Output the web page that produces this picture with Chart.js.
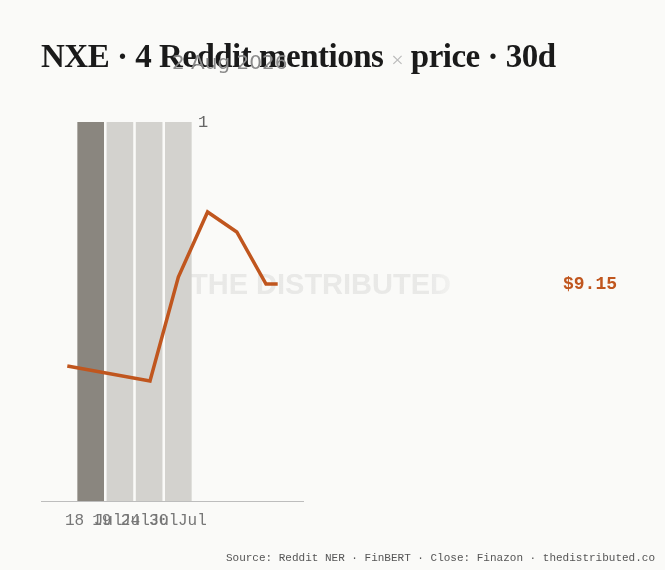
<!DOCTYPE html>
<html><head><meta charset="utf-8">
<script src="https://cdn.jsdelivr.net/npm/chart.js@4"></script>
<style>
html,body{margin:0;padding:0;background:#fafaf8;}
#wrap{position:relative;width:665px;height:570px;}
#title{position:absolute;left:41px;top:38px;font-family:"Liberation Serif",serif;font-weight:bold;font-size:33px;color:#1a1a1a;white-space:nowrap;letter-spacing:-0.5px;}
#title .x{color:#bbb;font-weight:normal;font-size:22px;}
#date{position:absolute;left:172px;top:50px;font-family:"DejaVu Sans",sans-serif;font-size:20px;color:#8a8a8a;white-space:nowrap;}
canvas{position:absolute;left:0;top:0;}
</style></head><body>
<div id="wrap">
<canvas id="c" width="665" height="570"></canvas>
<div id="title">NXE · 4 Reddit mentions <span class="x">×</span> price · 30d</div>
<div id="date">2 Aug 2026</div>
</div>
<script>
const barX = [0.8, 1.8, 2.8, 3.8];
const mentions = [1, 1, 1, 1];
const barColors = ['#8a867f', '#d3d2ce', '#d3d2ce', '#d3d2ce'];
const priceX = [0, 2.83, 3.8, 4.8, 5.8, 6.8, 7.2];
const price = [8.74, 8.665, 9.185, 9.51, 9.41, 9.15, 9.15];
const tickX = [-0.08, 0.85, 1.83, 2.8];
const tickLabels = ['18 Jul', '19 Jul', '24 Jul', '30 Jul'];
const lastPrice = '$9.15';

const deco = {
  id: 'deco',
  beforeDatasetsDraw(chart) {
    const c = chart.ctx, a = chart.chartArea;
    c.save();
    const g = c.createLinearGradient(190, 0, 470, 0);
    g.addColorStop(0, 'rgba(200,200,200,0.35)');
    g.addColorStop(0.85, 'rgba(200,200,200,0.35)');
    g.addColorStop(1, 'rgba(200,200,200,0)');
    c.fillStyle = g;
    c.font = 'bold 29px "Liberation Sans", sans-serif';
    c.textBaseline = 'middle';
    c.fillText('THE DISTRIBUTED', 190, 286);
    c.restore();
  },
  afterDraw(chart) {
    const c = chart.ctx, a = chart.chartArea, xs = chart.scales.x;
    c.save();
    c.strokeStyle = '#bdbdbd'; c.lineWidth = 1;
    c.beginPath(); c.moveTo(a.left, a.bottom + 0.5); c.lineTo(a.right, a.bottom + 0.5); c.stroke();
    c.fillStyle = '#777';
    c.font = '16px "Liberation Mono", monospace';
    c.textBaseline = 'top';
    tickX.forEach((v, i) => c.fillText(tickLabels[i], xs.getPixelForValue(v), 513));
    c.fillStyle = '#666';
    c.font = '17px "Liberation Mono", monospace';
    c.fillText(String(Math.max(...mentions)), 198, 114);
    c.fillStyle = '#c0561e';
    c.font = 'bold 18px "Liberation Mono", monospace';
    c.textBaseline = 'middle';
    c.fillText(lastPrice, 563, chart.scales.y2.getPixelForValue(price[price.length - 1]));
    c.fillStyle = '#555';
    c.font = '11px "Liberation Mono", monospace';
    c.textAlign = 'right';
    c.textBaseline = 'alphabetic';
    c.fillText('Source: Reddit NER · FinBERT · Close: Finazon · thedistributed.co', 655, 561);
    c.restore();
  }
};

new Chart(document.getElementById('c'), {
  data: {
    datasets: [
      { type: 'line', data: priceX.map((x, i) => ({x, y: price[i]})), yAxisID: 'y2',
        borderColor: '#c0561e', borderWidth: 3.5, pointRadius: 0, tension: 0, order: 0, clip: false },
      { type: 'bar', data: barX.map((x, i) => ({x, y: mentions[i]})), yAxisID: 'y',
        backgroundColor: barColors, barThickness: 26, order: 1 }
    ]
  },
  options: {
    responsive: false, animation: false,
    layout: { padding: { left: 41, right: 361, top: 122, bottom: 69 } },
    plugins: { legend: { display: false }, tooltip: { enabled: false } },
    scales: {
      x: { type: 'linear', min: 0, max: 7.2, display: false },
      y: { min: 0, max: 1, display: false },
      y2: { min: 8.065, max: 9.96, display: false }
    }
  },
  plugins: [deco]
});
</script>
</body></html>
